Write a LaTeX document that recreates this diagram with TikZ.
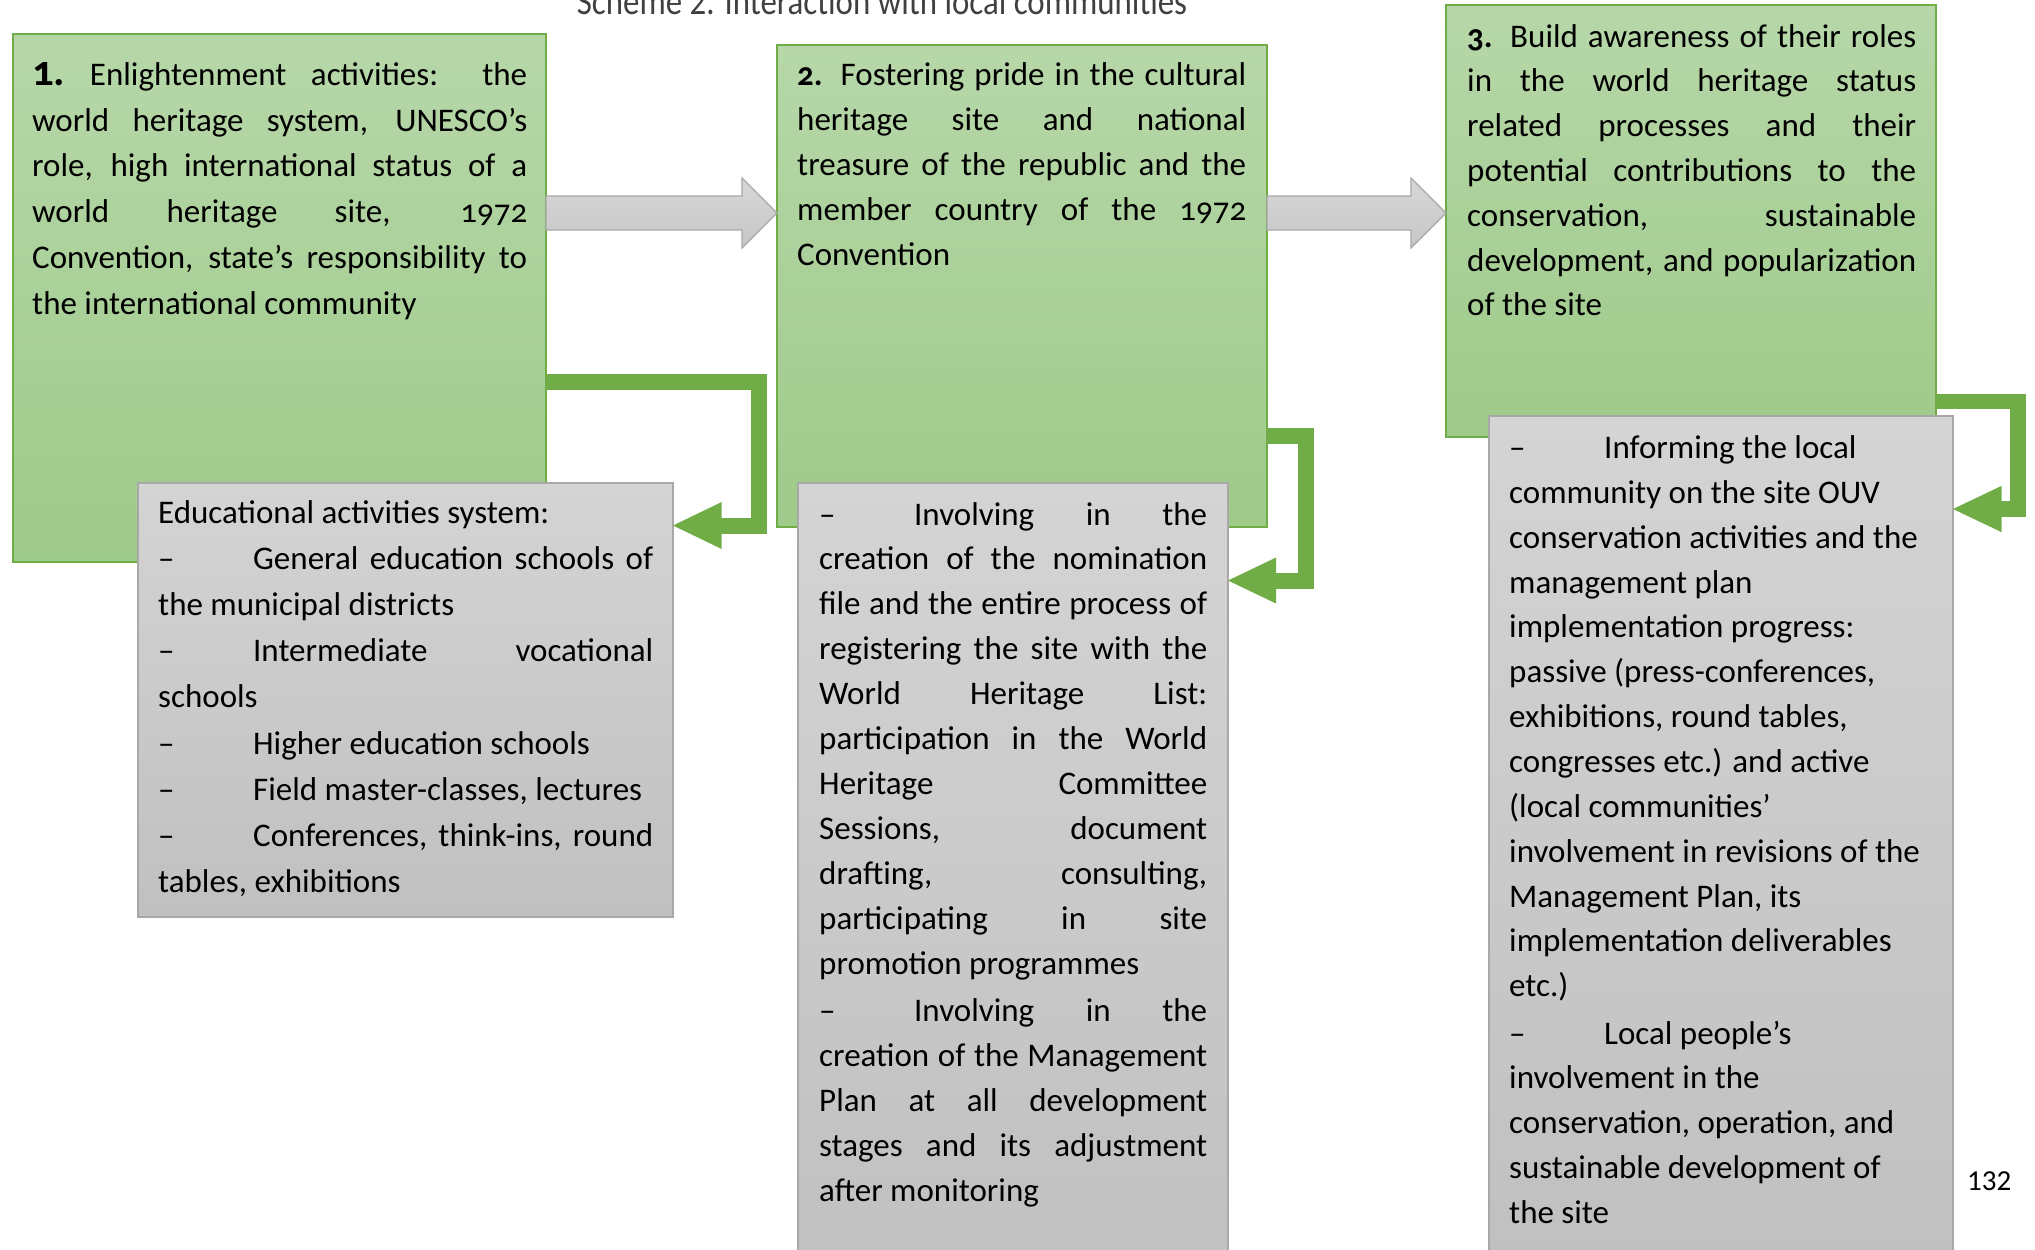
\documentclass[tikz,border=0pt]{standalone}
\usepackage{fontspec}
\setmainfont{Carlito}[Numbers=OldStyle]
\usepackage{graphicx}
\usetikzlibrary{calc}
\definecolor{gA}{RGB}{112,173,71}
\definecolor{gTop}{RGB}{183,215,169}
\definecolor{gBot}{RGB}{158,202,138}
\definecolor{kTop}{RGB}{212,212,212}
\definecolor{kBot}{RGB}{192,192,192}
\definecolor{kLine}{RGB}{168,168,168}
\definecolor{aTop}{RGB}{216,216,216}
\definecolor{aBot}{RGB}{198,198,198}
\definecolor{titlegray}{RGB}{64,64,64}
\newcommand\Jl[1]{\hbox to\hsize{#1}}
\newcommand\Nl[1]{\hbox{#1}}
\newcommand\Tb{\makebox[95pt][l]{–}}
\newcommand\Gap{\vskip 2.5pt}
\newcommand\Txt[3]{\vtop{\fontsize{33pt}{#2}\selectfont\hsize=#1\baselineskip=#2\lineskiplimit=-100pt\lineskip=0pt #3}}
\newcommand\BigOne{\scalebox{1.3}{\textbf{1.}}}
\tikzset{
  greenbox/.style={rectangle, draw=gA, line width=1.3pt, top color=gTop, bottom color=gBot, inner sep=0pt, outer sep=0pt, anchor=north west},
  graybox/.style={rectangle, draw=kLine, line width=1.3pt, top color=kTop, bottom color=kBot, inner sep=0pt, outer sep=0pt, anchor=north west},
  blockarrow/.style={draw=kLine, line width=1.2pt, top color=aTop, bottom color=aBot, line join=miter},
  elbow/.style={draw=gA, line width=16pt, line join=miter},
  boxtext/.style={inner sep=0pt, anchor=base west, text=black},
}
\begin{document}
\begin{tikzpicture}[x=1pt,y=-1pt]
\useasboundingbox (0,0) rectangle (2035,1250);
\fill[white] (0,0) rectangle (2035,1250);

% title
\node[anchor=base, inner sep=0pt, text=titlegray] (title) at (882,14)
  {\fontsize{38pt}{40pt}\selectfont\addfontfeatures{Numbers=Lining}\scalebox{0.866}[1]{Scheme 2. Interaction with local communities}};

% green boxes
\node[greenbox, minimum width=533pt, minimum height=528pt] (b1) at (13,34) {};
\node[greenbox, minimum width=490pt, minimum height=482pt] (b2) at (777,45) {};
\node[greenbox, minimum width=490pt, minimum height=432pt] (b3) at (1446,5) {};

% gray boxes
\node[graybox, minimum width=535pt, minimum height=434pt] (g1) at (138,483) {};
\node[graybox, minimum width=430pt, minimum height=790pt] (g2) at (798,483) {};
\node[graybox, minimum width=464pt, minimum height=850pt] (g3) at (1489,416) {};

% gray block arrows
\path[blockarrow] let \p1=(b1.east |- 0,213), \p2=(b2.west |- 0,213) in
  ({\x1},{\y1+17pt}) -- ({\x2-35pt},{\y1+17pt}) -- ({\x2-35pt},{\y1+35pt}) -- (\p2)
  -- ({\x2-35pt},{\y1-35pt}) -- ({\x2-35pt},{\y1-17pt}) -- ({\x1},{\y1-17pt}) -- cycle;
\path[blockarrow] let \p1=(b2.east |- 0,213), \p2=(b3.west |- 0,213) in
  ({\x1},{\y1+17pt}) -- ({\x2-35pt},{\y1+17pt}) -- ({\x2-35pt},{\y1+35pt}) -- (\p2)
  -- ({\x2-35pt},{\y1-35pt}) -- ({\x2-35pt},{\y1-17pt}) -- ({\x1},{\y1-17pt}) -- cycle;

% green elbow arrows
\coordinate (k1) at (758.5,382);
\coordinate (h1) at (720,525.5);
\draw[elbow] (b1.east |- k1) -- (k1) |- (h1);
\fill[gA] ($(h1)+(1.7,-23.5)$) -- (g1.east |- h1) -- ($(h1)+(1.7,23.5)$) -- cycle;

\coordinate (k2) at (1305.5,436);
\coordinate (h2) at (1274,580.5);
\draw[elbow] (b2.east |- k2) -- (k2) |- (h2);
\fill[gA] ($(h2)+(2,-23)$) -- (g2.east |- h2) -- ($(h2)+(2,23)$) -- cycle;

\coordinate (k3) at (2018,401.5);
\coordinate (h3) at (2000,509);
\draw[elbow, line width=15.5pt] (b3.east |- k3) -- (k3) |- (h3);
\fill[gA] ($(h3)+(1.7,-23.2)$) -- (g3.east |- h3) -- ($(h3)+(1.7,23.2)$) -- cycle;

% texts
\node[boxtext] (t1) at (32,85.5) {\Txt{495pt}{45.7pt}{%
\Jl{\BigOne{} Enlightenment activities: the}
\Jl{world heritage system, UNESCO’s}
\Jl{role, high international status of a}
\Jl{world heritage site, 1972}
\Jl{Convention, state’s responsibility to}
\Nl{the international community}}};

\node[boxtext] (t2) at (797,85.5) {\Txt{449pt}{45.1pt}{%
\Jl{\textbf{2.} Fostering pride in the cultural}
\Jl{heritage site and national}
\Jl{treasure of the republic and the}
\Jl{member country of the 1972}
\Nl{Convention}}};

\node[boxtext] (t3) at (1467,47) {\Txt{449pt}{44.8pt}{%
\Jl{\textbf{3.} Build awareness of their roles}
\Jl{in the world heritage status}
\Jl{related processes and their}
\Jl{potential contributions to the}
\Jl{conservation, sustainable}
\Jl{development, and popularization}
\Nl{of the site}}};

\node[boxtext] (tg1) at (158,523.5) {\Txt{495pt}{46.1pt}{%
\Nl{Educational activities system:}
\Jl{\Tb General education schools of}
\Nl{the municipal districts}
\Jl{\Tb Intermediate vocational}
\Nl{schools}
\Nl{\Tb Higher education schools}
\Nl{\Tb Field master-classes, lectures}
\Jl{\Tb Conferences, think-ins, round}
\Nl{tables, exhibitions}}};

\node[boxtext] (tg2) at (819,525) {\Txt{388pt}{44.9pt}{%
\Jl{\Tb Involving in the}
\Jl{creation of the nomination}
\Jl{file and the entire process of}
\Jl{registering the site with the}
\Jl{World Heritage List:}
\Jl{participation in the World}
\Jl{Heritage Committee}
\Jl{Sessions, document}
\Jl{drafting, consulting,}
\Jl{participating in site}
\Nl{promotion programmes}
\Gap
\Jl{\Tb Involving in the}
\Jl{creation of the Management}
\Jl{Plan at all development}
\Jl{stages and its adjustment}
\Nl{after monitoring}}};

\node[boxtext] (tg3) at (1509,458.5) {\Txt{430pt}{44.85pt}{%
\Nl{\Tb Informing the local}
\Nl{community on the site OUV}
\Nl{conservation activities and the}
\Nl{management plan}
\Nl{implementation progress:}
\Nl{passive (press-conferences,}
\Nl{exhibitions, round tables,}
\Nl{congresses etc.) and active}
\Nl{(local communities’}
\Nl{involvement in revisions of the}
\Nl{Management Plan, its}
\Nl{implementation deliverables}
\Nl{etc.)}
\Gap
\Nl{\Tb Local people’s}
\Nl{involvement in the}
\Nl{conservation, operation, and}
\Nl{sustainable development of}
\Nl{the site}}};

% page number
\node[anchor=base west, inner sep=0pt] (pg) at (1967,1190)
  {\fontsize{29pt}{30pt}\selectfont\addfontfeatures{Numbers=Lining}132};
\end{tikzpicture}
\end{document}
